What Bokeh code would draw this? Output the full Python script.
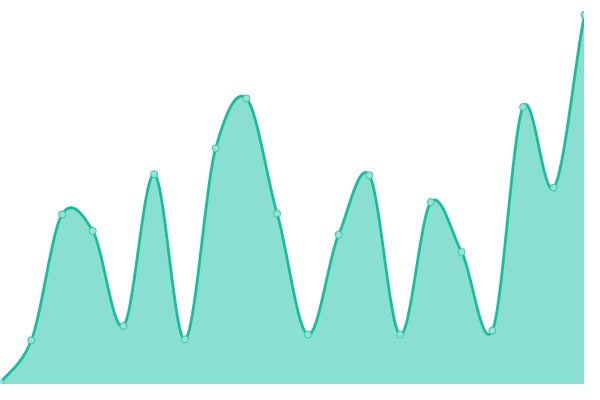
import numpy as np
from bokeh.plotting import figure
from bokeh.models import Range1d
from bokeh.embed import file_html
from bokeh.resources import INLINE

# data
x_index = list(range(20))
values = [2, 46, 177, 160, 61, 219, 47, 246, 298, 178,
          52, 156, 218, 52, 190, 138, 56, 289, 205, 385]

LINE = "#1abc9c"
FILL = "#8ae0d0"
TENSION = 0.9

def cardinal(xs, ys, n=40):
    xs = np.asarray(xs, float)
    ys = np.asarray(ys, float)
    m = np.zeros_like(ys)
    m[1:-1] = (ys[2:] - ys[:-2]) / (xs[2:] - xs[:-2])
    m[0] = (ys[1] - ys[0]) / (xs[1] - xs[0])
    m[-1] = (ys[-1] - ys[-2]) / (xs[-1] - xs[-2])
    m *= TENSION
    out_x, out_y = [], []
    for i in range(len(xs) - 1):
        h = xs[i + 1] - xs[i]
        t = np.linspace(0, 1, n, endpoint=False)
        h00 = 2 * t**3 - 3 * t**2 + 1
        h10 = t**3 - 2 * t**2 + t
        h01 = -2 * t**3 + 3 * t**2
        h11 = t**3 - t**2
        out_x.extend(xs[i] + t * h)
        out_y.extend(h00 * ys[i] + h10 * h * m[i] + h01 * ys[i + 1] + h11 * h * m[i + 1])
    out_x.append(xs[-1])
    out_y.append(ys[-1])
    return np.array(out_x), np.array(out_y)

sx, sy = cardinal(x_index, values)

p = figure(width=584, height=384, output_backend="svg", toolbar_location=None,
           x_range=Range1d(0, 19), y_range=Range1d(0, 400),
           min_border=0)
p.axis.visible = False
p.grid.visible = False
p.outline_line_color = None
p.background_fill_color = "white"
p.border_fill_color = "white"

p.varea(x=sx, y1=0, y2=sy, fill_color=FILL, fill_alpha=1.0)
p.line(sx, sy, line_color=LINE, line_width=2.8)
p.scatter(x_index, values, size=7, fill_color="#93e4d4", line_color="#3cc4a8", line_width=1)

open("out.html", "w").write(file_html(p, INLINE))
